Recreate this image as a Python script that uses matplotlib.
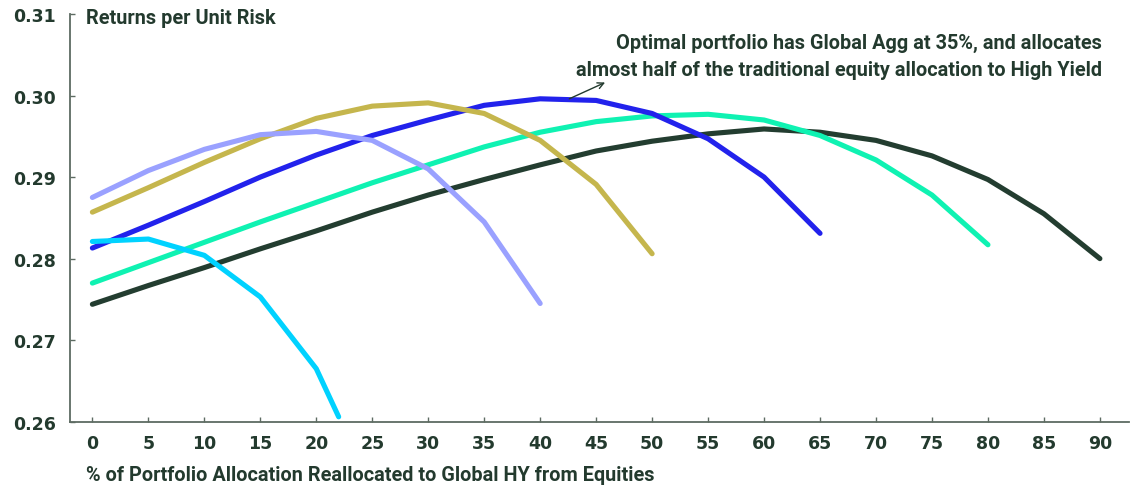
import matplotlib
matplotlib.use("Agg")
import matplotlib.pyplot as plt

# % of allocation moved from equities into global high yield
x_full = [0, 5, 10, 15, 20, 25, 30, 35, 40, 45, 50, 55, 60, 65, 70, 75, 80, 85, 90]
x_cyan = [0, 5, 10, 15, 20, 22]

# Returns per unit of risk, one curve per portfolio mix
dark_vals = [0.2744, 0.2767, 0.2789, 0.2812, 0.2834, 0.2857, 0.2878, 0.2897, 0.2915,
             0.2932, 0.2944, 0.2953, 0.2959, 0.2955, 0.2945, 0.2926, 0.2897, 0.2855, 0.2800]
mint_vals = [0.2770, 0.2795, 0.2820, 0.2845, 0.2869, 0.2893, 0.2915, 0.2937, 0.2955,
             0.2968, 0.2975, 0.2977, 0.2970, 0.2951, 0.2921, 0.2878, 0.2817]
blue_vals = [0.2813, 0.2841, 0.2870, 0.2900, 0.2927, 0.2951, 0.2970, 0.2988, 0.2996,
             0.2994, 0.2978, 0.2947, 0.2900, 0.2831]
gold_vals = [0.2857, 0.2887, 0.2918, 0.2947, 0.2972, 0.2987, 0.2991, 0.2978, 0.2945,
             0.2891, 0.2806]
purple_vals = [0.2875, 0.2908, 0.2934, 0.2952, 0.2956, 0.2945, 0.2910, 0.2845, 0.2745]
cyan_vals = [0.2821, 0.2824, 0.2804, 0.2753, 0.2665, 0.2606]

x_ticks = list(range(0, 95, 5))
y_ticks = [0.26, 0.27, 0.28, 0.29, 0.30, 0.31]

TEXT = "#233a2e"
AXIS = "#5d6b62"
LABEL_FONT = ["Roboto", "DejaVu Sans"]
LABEL_SIZE = 14.3

W, H = 1131, 489
fig = plt.figure(figsize=(W / 100, H / 100), dpi=100)
ax = fig.add_axes([70 / W, 1 - 422.7 / H, (1129 - 70) / W, (422.7 - 15) / H])

series = [
    (x_full[:len(dark_vals)], dark_vals, "#233d30"),
    (x_full[:len(mint_vals)], mint_vals, "#0ff2b2"),
    (x_full[:len(blue_vals)], blue_vals, "#2222ec"),
    (x_full[:len(gold_vals)], gold_vals, "#c5b64d"),
    (x_full[:len(purple_vals)], purple_vals, "#9aa1ff"),
    (x_cyan, cyan_vals, "#00d2ff"),
]
for xs, ys, col in series:
    ax.plot(xs, ys, color=col, lw=3.7, solid_capstyle="round", solid_joinstyle="round")

ax.set_xlim(-2, 92.6)
ax.set_ylim(0.26, 0.31)
ax.set_xticks(x_ticks)
ax.set_xticklabels([str(v) for v in x_ticks])
ax.set_yticks(y_ticks)
ax.set_yticklabels([f"{v:.2f}" for v in y_ticks])

for side in ("top", "right"):
    ax.spines[side].set_visible(False)
for side in ("left", "bottom"):
    ax.spines[side].set_color(AXIS)
    ax.spines[side].set_linewidth(1.3)

ax.tick_params(axis="both", direction="in", length=3.5, width=1, color=AXIS,
               labelsize=12.5, labelcolor=TEXT)
ax.tick_params(axis="x", pad=9)
ax.tick_params(axis="y", pad=10)
for lab in ax.get_xticklabels() + ax.get_yticklabels():
    lab.set_fontweight("bold")
    lab.set_family("DejaVu Sans")

fig.text(86 / W, 1 - 23.5 / H, "Returns per Unit Risk", family=LABEL_FONT,
         fontweight="bold", fontsize=LABEL_SIZE, color=TEXT, ha="left", va="baseline")
fig.text(86 / W, 1 - 481 / H,
         "% of Portfolio Allocation Reallocated to Global HY from Equities",
         family=LABEL_FONT, fontweight="bold", fontsize=LABEL_SIZE, color=TEXT,
         ha="left", va="baseline")

note_lines = ["Optimal portfolio has Global Agg at 35%, and allocates",
              "almost half of the traditional equity allocation to High Yield"]
for line, base in zip(note_lines, (49, 75.5)):
    fig.text(1102 / W, 1 - base / H, line, family=LABEL_FONT, fontweight="bold",
             fontsize=LABEL_SIZE, color=TEXT, ha="right", va="baseline")

ax.annotate("", xy=(45.8, 0.3016), xytext=(42.6, 0.2996),
            arrowprops=dict(arrowstyle="->", color=TEXT, lw=1.0,
                            shrinkA=0, shrinkB=0, mutation_scale=11))

fig.savefig("out.png", dpi=100, facecolor="white")
